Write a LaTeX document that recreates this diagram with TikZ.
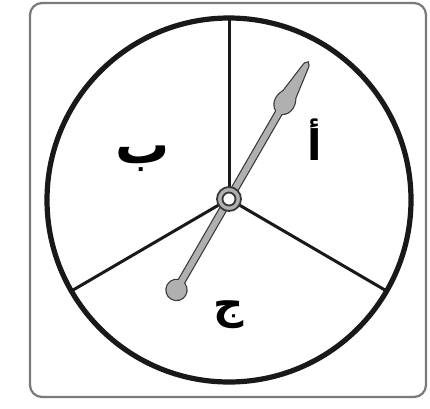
\documentclass[tikz,border=0pt]{standalone}
\usepackage{fontspec}
\newfontfamily\arabicfont[Script=Arabic]{DejaVu Sans}
\TeXXeTstate=1
\definecolor{framegray}{HTML}{7A7A7A}
\definecolor{needlefill}{HTML}{B0B0B0}
\definecolor{needleline}{HTML}{383838}
\tikzset{
  frame/.style={draw=framegray, line width=2.2pt, rounded corners=12pt},
  wheelstyle/.style={circle, draw=black!90, line width=5.2pt, minimum size=364pt, inner sep=0pt, outer sep=0pt},
  sector/.style={draw=black!90, line width=3pt},
  hubstyle/.style={circle, minimum size=24pt, inner sep=0pt, outer sep=0pt},
  letter/.style={font=\arabicfont\bfseries\fontsize{42}{42}\selectfont, inner sep=0pt},
  bigletter/.style={font=\arabicfont\bfseries\fontsize{54}{54}\selectfont, inner sep=0pt},
  needleout/.style={draw=needleline, line width=2.4pt, fill=needlefill},
  needlein/.style={fill=needlefill},
}
\begin{document}
\begin{tikzpicture}[x=1pt,y=-1pt]
\useasboundingbox (0,0) rectangle (430,408);
\fill[white] (0,0) rectangle (430,408);
\draw[frame] (30,3) rectangle (426,397);
\node[wheelstyle] (wheel) at (229,200) {};
\node[hubstyle] (hub) at (229,199) {};
\draw[sector] (hub.center) -- (wheel.90);
\draw[sector] (hub.center) -- (wheel.210);
\draw[sector] (hub.center) -- (wheel.330);
% needle
\begin{scope}[shift={(229,199)}, rotate=60]
  \def\headpath{(100,-3) .. controls (102,-7) and (106,-9.5) .. (111,-9.5) .. controls (116,-9.5) and (118,-8) .. (121,-6.8) -- (151,-2.8) .. controls (155,-2.6) and (157,-1.4) .. (157.5,0) .. controls (157,1.4) and (155,2.6) .. (151,2.8) -- (121,6.8) .. controls (118,8) and (116,9.5) .. (111,9.5) .. controls (106,9.5) and (102,7) .. (100,3) -- cycle}
  \path[needleout] (-100,-3) rectangle (104,3);
  \path[needleout] (-105,0) circle[radius=10];
  \path[needleout] \headpath;
  \path[needlein] (-100,-3) rectangle (104,3);
  \path[needlein] (-105,0) circle[radius=10];
  \path[needlein] \headpath;
\end{scope}
% hub
\fill[needlefill, draw=needleline, line width=1.8pt] (hub.center) circle[radius=12];
\fill[white, draw=needleline, line width=1.8pt] (hub.center) circle[radius=6.5];
% labels
\node[letter] (la) at (315,140) {\beginR أ\endR};
\node[bigletter] (lb) at (143,159) {\beginR ب\endR};
\node[letter] (lc) at (229,315) {\beginR ج\endR};
\end{tikzpicture}
\end{document}
